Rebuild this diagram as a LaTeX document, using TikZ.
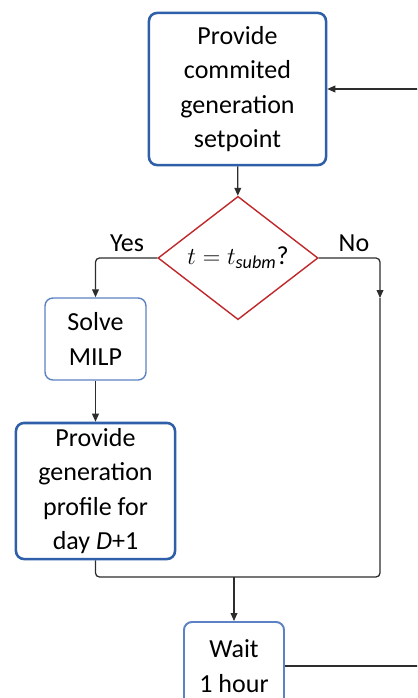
\documentclass[tikz,border=0pt]{standalone}
\usepackage{fontspec}
\setmainfont{Carlito}
\usepackage{tikz}
\usetikzlibrary{arrows.meta, positioning, shapes.geometric}

\definecolor{boxblue}{RGB}{46,95,168}
\definecolor{lightblue}{RGB}{92,130,195}
\definecolor{diared}{RGB}{192,40,42}
\definecolor{linegray}{RGB}{45,45,45}

\begin{document}
\begin{tikzpicture}[
  x=0.025cm, y=-0.025cm,
  every node/.style={font=\fontsize{18.5}{24.5}\selectfont, align=center},
  bigbox/.style={rectangle, rounded corners=0.2cm, draw=boxblue, line width=1.8pt, inner sep=0pt},
  smallbox/.style={rectangle, rounded corners=0.2cm, draw=lightblue, line width=1pt, inner sep=0pt},
  decide/.style={diamond, draw=diared, line width=1pt, inner sep=0pt},
  arr/.style={-{Triangle[length=2mm, width=1.7mm]}, draw=linegray, line width=0.9pt},
  conn/.style={draw=linegray, line width=0.9pt}
]
\useasboundingbox (0,0) rectangle (417,698);
\clip (0,0) rectangle (417,698);

% boxes
\node[bigbox, minimum width=4.425cm, minimum height=3.8cm] (setpoint) at (237.5,89) {Provide\\commited\\generation\\setpoint};
\node[decide, minimum width=4cm, minimum height=2.9cm] (check) at (238,258) {$t=t_{\mathit{subm}}$?};
\node[smallbox, minimum width=2.525cm, minimum height=2.05cm] (milp) at (95.5,339) {Solve\\MILP};
\node[bigbox, minimum width=3.975cm, minimum height=3.4cm] (profile) at (95.5,491) {Provide\\generation\\profile for\\day \textit{D}+1};
\node[smallbox, line width=1.4pt, minimum width=2.5cm, minimum height=2.2cm] (wait) at (234,666) {Wait\\1 hour};

% labels
\node (yes) at (127,243) {Yes};
\node (no) at (354,243) {No};

% helper points
\coordinate (noarr) at (380,298);
\coordinate (nobend) at (380,577);
\coordinate (join) at (234,577);
\coordinate (loopdown) at (430,666);

% connectors
\draw[arr] (setpoint) -- (check);
\draw[arr, rounded corners=0.1cm] (check.west) -| (milp.north);
\draw[arr, rounded corners=0.1cm] (check.east) -| (noarr);
\draw[conn, rounded corners=0.1cm] (profile.south) |- (nobend) -- (noarr);
\draw[arr] (milp) -- (profile);
\draw[arr] (join) -- (wait.north);
\draw[conn] (wait.east) -- (loopdown);
\draw[arr] (loopdown |- setpoint.east) -- (setpoint.east);
\end{tikzpicture}
\end{document}
